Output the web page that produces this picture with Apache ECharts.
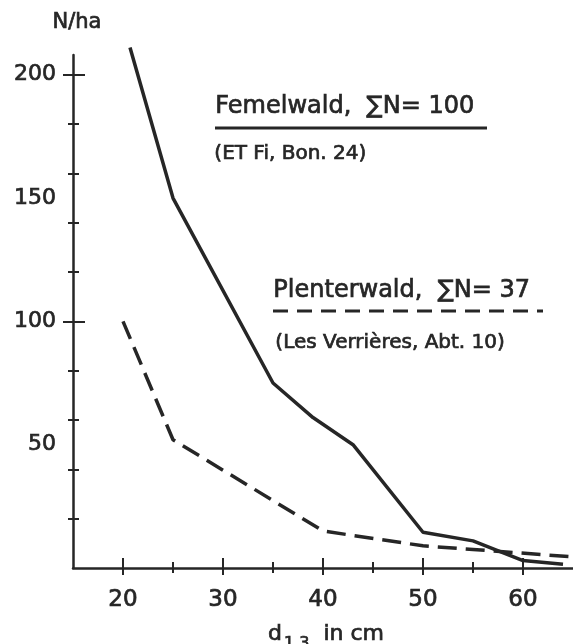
<!DOCTYPE html>
<html>
<head>
<meta charset="utf-8">
<title>Stammzahl nach Durchmesser</title>
<script src="https://cdn.jsdelivr.net/npm/echarts@6/dist/echarts.min.js"></script>
<style>
  html, body { margin: 0; padding: 0; background: #fff; }
  #chart { width: 573px; height: 644px; }
</style>
</head>
<body>
<div id="chart"></div>
<script>
// d1.3 in cm / N pro ha
var femelD = [20.7, 25, 35, 39, 43, 50, 55, 60, 64];
var femelN = [211, 150, 75, 61, 50, 14.5, 11, 3, 1.5];
var plenterD = [20, 25, 40, 50, 55, 65];
var plenterN = [100, 52, 15, 9, 7.5, 4.5];

var xLabels = [20, 30, 40, 50, 60];
var xMinorTicks = [25, 35, 45, 55];
var yLabels = [50, 100, 150, 200];
var yTicks = [20, 40, 60, 80, 100, 120, 140, 160, 180, 200];
var yLongTicks = [100, 200];

var ink = '#262626';
var font = 'DejaVu Sans';
// medium weight: normal face plus a thin outline
var txt = { fontFamily: font, color: ink, textBorderColor: ink, textBorderWidth: 0.7 };

function pairs(xs, ys) {
  return xs.map(function (x, i) { return [x, ys[i]]; });
}
function ts(o) { return Object.assign({}, txt, o); }
function gs(o) {
  return Object.assign({ fontFamily: font, fill: ink, stroke: ink, lineWidth: 0.7 }, o);
}

// one axis per tick set, ticks crossing the line = one inside + one outside
function xAx(ticks, len, inside, extra) {
  return Object.assign({
    type: 'value', position: 'bottom', min: 15, max: 65,
    axisLine: { show: false, onZero: false },
    axisTick: { show: true, inside: inside, length: len, customValues: ticks,
                lineStyle: { color: ink, width: 2 } },
    axisLabel: { show: false },
    splitLine: { show: false }
  }, extra || {});
}
function yAx(ticks, len, inside, extra) {
  return Object.assign({
    type: 'value', position: 'left', min: 0, max: 208,
    axisLine: { show: false, onZero: false },
    axisTick: { show: true, inside: inside, length: len, customValues: ticks,
                lineStyle: { color: ink, width: 2 } },
    axisLabel: { show: false },
    splitLine: { show: false }
  }, extra || {});
}

var chart = echarts.init(document.getElementById('chart'));
chart.setOption({
  backgroundColor: '#fff',
  animation: false,
  grid: { left: 73, right: 0, top: 55, bottom: 76, outerBoundsMode: 'none' },
  xAxis: [
    xAx(xLabels, 7, false, {
      axisLine: { show: true, onZero: false, lineStyle: { color: ink, width: 2.5 } },
      axisLabel: ts({ show: true, customValues: xLabels, margin: 21, fontSize: 23 }),
      name: '{d|d}{s|1.3}{t|  in cm}',
      nameLocation: 'middle',
      nameGap: 49,
      nameTextStyle: {
        padding: [0, 0, 0, 6],
        rich: {
          d: ts({ fontSize: 22, lineHeight: 24 }),
          s: ts({ fontSize: 16, lineHeight: 16, padding: [19, 0, 0, 2] }),
          t: ts({ fontSize: 22, lineHeight: 24 })
        }
      }
    }),
    xAx(xLabels, 10, true),
    xAx(xMinorTicks, 5, false),
    xAx(xMinorTicks, 6, true)
  ],
  yAxis: [
    yAx(yTicks, 5, false, {
      axisLine: { show: true, onZero: false, lineStyle: { color: ink, width: 2.5 } },
      axisLabel: ts({ show: true, customValues: yLabels, margin: 17, fontSize: 22 }),
      name: 'N/ha',
      nameLocation: 'end',
      nameGap: 32,
      nameTextStyle: ts({ fontSize: 21, align: 'center', verticalAlign: 'middle',
                          padding: [0, 0, 0, 8] })
    }),
    yAx(yTicks, 6, true),
    yAx(yLongTicks, 10, false),
    yAx(yLongTicks, 12, true)
  ],
  graphic: [
    { type: 'text', left: 215, top: 94,
      style: gs({ text: 'Femelwald,  \u2211N= 100', fontSize: 24 }) },
    { type: 'line', shape: { x1: 215, y1: 128, x2: 487, y2: 128 },
      style: { stroke: ink, lineWidth: 3 } },
    { type: 'text', left: 214, top: 143,
      style: gs({ text: '(ET Fi, Bon. 24)', fontSize: 20 }) },
    { type: 'text', left: 273, top: 278,
      style: gs({ text: 'Plenterwald,  \u2211N= 37', fontSize: 24 }) },
    { type: 'line', shape: { x1: 273, y1: 311, x2: 543, y2: 311 },
      style: { stroke: ink, lineWidth: 3, lineDash: [15, 9] } },
    { type: 'text', left: 275, top: 332,
      style: gs({ text: '(Les Verri\u00e8res, Abt. 10)', fontSize: 20 }) }
  ],
  series: [
    {
      name: 'Femelwald',
      type: 'line',
      data: pairs(femelD, femelN),
      showSymbol: false,
      clip: false,
      lineStyle: { color: ink, width: 3.5 }
    },
    {
      name: 'Plenterwald',
      type: 'line',
      data: pairs(plenterD, plenterN),
      showSymbol: false,
      clip: false,
      lineStyle: { color: ink, width: 3.5, type: [19, 9] }
    }
  ]
});
</script>
</body>
</html>
